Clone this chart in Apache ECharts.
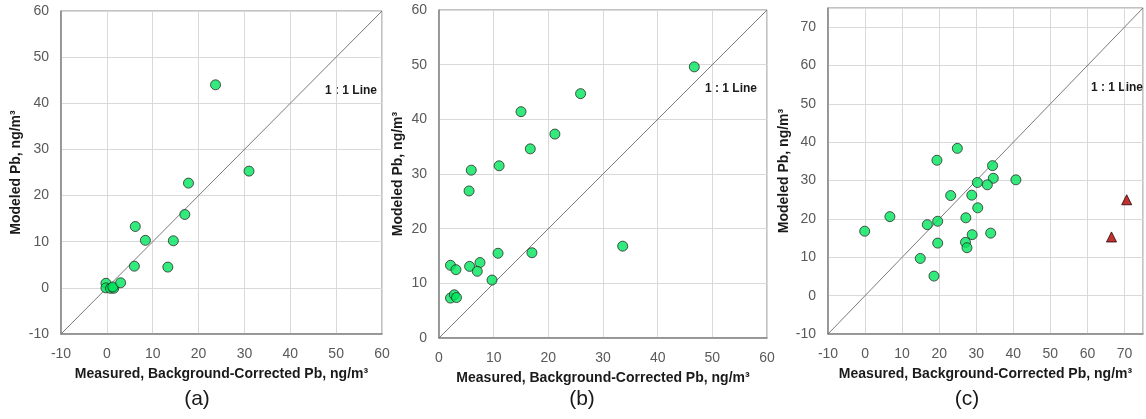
<!DOCTYPE html>
<html>
<head>
<meta charset="utf-8">
<script src="https://cdn.jsdelivr.net/npm/echarts@6/dist/echarts.min.js"></script>
<style>
  html, body { margin: 0; padding: 0; background: #ffffff; }
  #chart { width: 1146px; height: 419px; }
</style>
</head>
<body>
<div id="chart"></div>
<script>
// Panel (a): measured vs. modeled Pb
const measuredA = [23.7, 31.0, 17.8, 17.0, 6.2, 8.4, 14.5, 6.0, 13.3, -0.2, -0.2, 0.8, 1.5, 1.3, 3.0];
const modeledA  = [44.0, 25.3, 22.7, 15.9, 13.3, 10.3, 10.2, 4.7, 4.5, 1.0, 0.0, -0.1, -0.1, 0.2, 1.1];

// Panel (b)
const measuredB = [46.7, 25.9, 15.0, 21.2, 16.7, 11.0, 5.9, 5.5, 33.6, 17.0, 10.8, 7.5, 5.6, 2.1, 3.1, 7.0, 9.7, 2.1, 2.8, 3.2];
const modeledB  = [49.6, 44.7, 41.4, 37.3, 34.6, 31.5, 30.7, 26.9, 16.8, 15.6, 15.5, 13.8, 13.1, 13.3, 12.5, 12.2, 10.6, 7.3, 7.9, 7.4];

// Panel (c): circles, plus two triangle sites
const measuredC = [24.9, 19.4, 34.4, 34.6, 40.7, 30.3, 33.0, 23.1, 28.8, 30.4, 6.7, 27.2, 19.6, 16.8, -0.1, 28.9, 33.9, 27.1, 19.6, 27.5, 14.9, 18.6];
const modeledC  = [38.4, 35.3, 33.9, 30.6, 30.2, 29.5, 28.9, 26.1, 26.2, 22.9, 20.6, 20.3, 19.4, 18.5, 16.8, 15.9, 16.3, 13.9, 13.7, 12.5, 9.7, 5.1];
const measuredC2 = [70.6, 66.5];
const modeledC2  = [25.0, 15.3];

// Axis ranges and 1:1 reference lines
const rangeA = [-10, 60];
const rangeB = [0, 60];
const rangeC = [-10, 75];
const panelLetters = ['(a)', '(b)', '(c)'];
const xTitle = 'Measured, Background-Corrected Pb, ng/m\u00b3';
const yTitle = 'Modeled Pb, ng/m\u00b3';
const lineLabel = '1 : 1 Line';

const pairs = (xs, ys) => xs.map((x, i) => [x, ys[i]]);
const diag = r => [[r[0], r[0]], [r[1], r[1]]];

const FONT = '"Liberation Sans", Arial, sans-serif';
const tickColor = '#595959';
const frameColor = '#868686';

function makeX(idx, r) {
  return {
    gridIndex: idx, type: 'value', min: r[0], max: r[1], interval: 10,
    name: xTitle, nameLocation: 'middle', nameGap: 33,
    nameTextStyle: { fontFamily: FONT, fontWeight: 'bold', fontSize: 14, color: '#1a1a1a' },
    axisLine: { show: true, onZero: false, lineStyle: { color: frameColor, width: 1.5 } },
    axisTick: { show: false },
    axisLabel: { fontFamily: FONT, fontSize: 14, color: tickColor, margin: 13,
      formatter: v => (v % 10 === 0 ? String(v) : '') },
    splitLine: { show: true, lineStyle: { color: '#d9d9d9', width: 1 } }
  };
}
function makeY(idx, r, gap) {
  return {
    gridIndex: idx, type: 'value', min: r[0], max: r[1], interval: 10,
    name: yTitle, nameLocation: 'middle', nameGap: gap, nameRotate: 90,
    nameTextStyle: { fontFamily: FONT, fontWeight: 'bold', fontSize: 14, color: '#1a1a1a' },
    axisLine: { show: true, onZero: false, lineStyle: { color: frameColor, width: 1.5 } },
    axisTick: { show: false },
    axisLabel: { fontFamily: FONT, fontSize: 14, color: tickColor, margin: 12,
      formatter: v => (v % 10 === 0 ? String(v) : '') },
    splitLine: { show: true, lineStyle: { color: '#d9d9d9', width: 1 } }
  };
}

const circleStyle = { color: '#00e65c', borderColor: '#2b2b2b', borderWidth: 1 };
function scatter(idx, data) {
  return { type: 'scatter', xAxisIndex: idx, yAxisIndex: idx, data: data,
    symbol: 'circle', symbolSize: 10, itemStyle: circleStyle, z: 5 };
}
function oneToOne(idx, r) {
  return { type: 'line', xAxisIndex: idx, yAxisIndex: idx, data: diag(r),
    symbol: 'none', silent: true, clip: true,
    lineStyle: { color: '#7a7a7a', width: 1 }, z: 3 };
}

const chart = echarts.init(document.getElementById('chart'), null, { renderer: 'canvas' });
chart.setOption({
  animation: false,
  backgroundColor: '#ffffff',
  grid: [
    { left: 61, top: 11, width: 321, height: 323, show: true, borderColor: frameColor, borderWidth: 1, containLabel: false },
    { left: 439, top: 10, width: 328, height: 328, show: true, borderColor: frameColor, borderWidth: 1, containLabel: false },
    { left: 828, top: 8, width: 325, height: 326, show: true, borderColor: frameColor, borderWidth: 1, containLabel: false }
  ],
  xAxis: [makeX(0, rangeA), makeX(1, rangeB), makeX(2, rangeC)],
  yAxis: [makeY(0, rangeA, 38), makeY(1, rangeB, 34), makeY(2, rangeC, 37)],
  series: [
    oneToOne(0, rangeA),
    scatter(0, pairs(measuredA, modeledA)),
    oneToOne(1, rangeB),
    scatter(1, pairs(measuredB, modeledB)),
    oneToOne(2, rangeC),
    scatter(2, pairs(measuredC, modeledC)),
    { type: 'scatter', xAxisIndex: 2, yAxisIndex: 2, data: pairs(measuredC2, modeledC2),
      symbol: 'triangle', symbolSize: 10,
      itemStyle: { color: '#b00000', borderColor: '#2a0000', borderWidth: 1 }, z: 5 }
  ],
  graphic: [
    { type: 'text', left: 325, top: 85, style: { text: lineLabel, fontFamily: FONT, fontWeight: 'bold', fontSize: 12, fill: '#1a1a1a' } },
    { type: 'text', left: 705, top: 83, style: { text: lineLabel, fontFamily: FONT, fontWeight: 'bold', fontSize: 12, fill: '#1a1a1a' } },
    { type: 'text', left: 1091, top: 82, style: { text: lineLabel, fontFamily: FONT, fontWeight: 'bold', fontSize: 12, fill: '#1a1a1a' } },
    { type: 'text', x: 197, y: 399, style: { text: panelLetters[0], fontFamily: FONT, fontSize: 21, fill: '#1a1a1a', align: 'center', verticalAlign: 'middle' } },
    { type: 'text', x: 582, y: 399, style: { text: panelLetters[1], fontFamily: FONT, fontSize: 21, fill: '#1a1a1a', align: 'center', verticalAlign: 'middle' } },
    { type: 'text', x: 967, y: 399, style: { text: panelLetters[2], fontFamily: FONT, fontSize: 21, fill: '#1a1a1a', align: 'center', verticalAlign: 'middle' } }
  ]
});
</script>
</body>
</html>
